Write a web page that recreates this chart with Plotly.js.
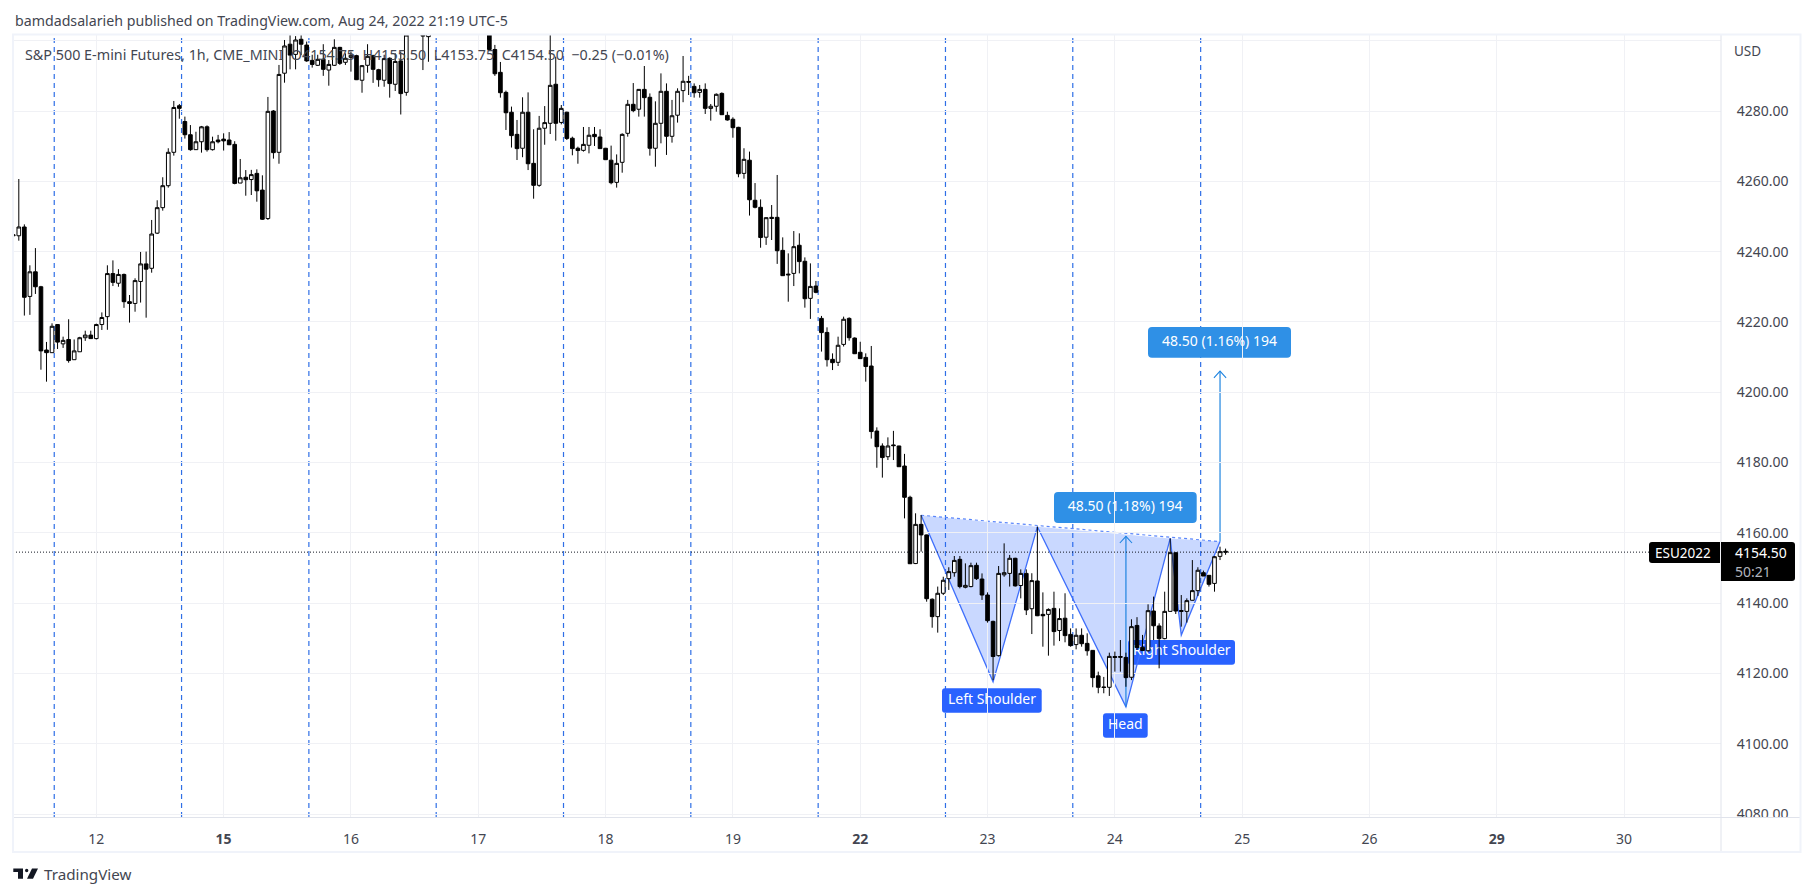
<!DOCTYPE html>
<html><head><meta charset="utf-8">
<script src="https://cdn.plot.ly/plotly-3.0.1.min.js"></script>
<style>html,body{margin:0;padding:0;background:#fff;overflow:hidden}#chart{width:1814px;height:896px}</style>
</head><body><div id="chart"></div>
<script>
const openPrices=[
4244.5,4244.5,4247,4227.25,4234.25,4230,4212,4211.25,4219.25,4213.75,
4215,4209.25,4211.5,4215.5,4216.25,4215.25,4219.25,4221.5,4233.75,4231,
4233.5,4225.75,4225.25,4231.5,4236.5,4235.25,4245.25,4252.5,4258.75,4268.25,
4281.5,4277,4273.25,4269,4271.25,4275.5,4269,4271.75,4272,4271.75,
4270.5,4259.5,4261.15,4260.5,4262.25,4257.5,4249.4,4280,4268.25,4290.75,
4299,4296.1,4300.4,4298.75,4294.4,4293,4294.75,4291.65,4293,4298.1,
4293.85,4295.25,4295.75,4288.75,4293,4295.75,4291.75,4288.75,4295,4287.6,
4294.25,4285.3,4303,4305,4304,4301.15,4304,4306,4307,4305,
4308,4306,4309,4307,4310,4308,4306,4297.5,4291,4285.3,
4279.65,4273.35,4269.4,4279.65,4265.1,4258.85,4275.1,4276.5,4287.6,4276.75,
4279.65,4272.25,4269.4,4268.8,4270.25,4273.35,4272.6,4269.4,4266,4259.7,
4265.4,4273.65,4281.9,4280.5,4286.15,4283.9,4269.4,4276.5,4285.6,4272.8,
4278.8,4285.8,4288.4,4287,4285.3,4286.15,4280.75,4281.35,4285,4278.75,
4277.65,4275.35,4262.25,4266,4254.6,4252.6,4244.1,4249.75,4249.75,4240.35,
4233.6,4233.8,4241.8,4237.25,4226.7,4230.2,4221,4217,4209.35,4208.5,
4213.6,4221,4215.4,4211.35,4209.9,4207.45,4188.95,4184.7,4181.65,4185,
4184.7,4179,4170.1,4151.25,4162.4,4159.4,4141.1,4136.15,4142.8,4146.95,
4148.65,4152.45,4144.5,4144.7,4150.75,4146.85,4142.3,4134.8,4125.05,4148.05,
4148.45,4152.75,4145,4148.45,4138.4,4146.3,4136.8,4136.8,4138.5,4132.2,
4135.7,4131.1,4128.2,4130.85,4128.55,4126.55,4119.3,4116.15,4116.05,4124.8,
4124.55,4124.55,4118.9,4133.65,4127.45,4126.45,4137.75,4133.5,4129.9,4137.65,
4154.35,4137.9,4137.65,4140.8,4143.55,4148.65,4147.9,4145.6,4153.3,4154.75];
const highPrices=[
4246.25,4260.65,4247.75,4236.1,4241,4230.25,4214.3,4219.6,4219.4,4215.8,
4220.75,4215,4215.75,4217.5,4217.5,4219.5,4222.7,4236.1,4237.5,4235,
4233.75,4227.65,4232.4,4239.9,4240,4249,4254.6,4261.15,4269.4,4282.85,
4282,4278.4,4276,4274.1,4275.75,4275.9,4272.7,4273.2,4273.65,4274,
4271.4,4266.35,4263.2,4263.25,4263.4,4261.7,4284,4280.25,4293.1,4300.2,
4301.8,4301.3,4301.8,4299.75,4296,4296,4299,4294.5,4300.4,4298.25,
4296.4,4296.9,4296,4293.1,4299,4296,4292,4296,4295.25,4296.4,
4296.9,4305,4306,4307,4307,4306,4307.5,4309,4308.5,4309.5,
4310,4311,4310.5,4312,4311.5,4310,4308,4298.8,4293.95,4285.8,
4281.25,4277.45,4283.9,4285.3,4274.8,4278.6,4281.4,4303,4295.45,4281.7,
4279.8,4272.7,4269.85,4275.45,4275.45,4275.45,4274.8,4269.5,4270.15,4267.65,
4273.65,4283.15,4287.95,4286.25,4292.8,4285,4282.75,4290.7,4287.85,4283.15,
4286.45,4295.65,4290,4287.85,4287.4,4287.85,4282,4285,4285.3,4279.8,
4278.2,4275.5,4269.4,4268.45,4259.5,4254.85,4249.75,4253.25,4261.8,4244.05,
4239.5,4245.85,4245.2,4238.35,4236.65,4231.65,4221.7,4218.45,4211.05,4215.8,
4221.5,4221.3,4215.6,4214.35,4211.05,4213.15,4190,4185.45,4187.15,4189,
4184.75,4182.45,4170.55,4165.55,4165.05,4159.5,4141.35,4144.7,4147.5,4150.2,
4153.4,4153.4,4151.3,4151.5,4151.5,4148.45,4143.05,4135,4150.55,4157,
4153.7,4152.9,4149.6,4149.6,4148.5,4161.75,4143.05,4138.5,4143.25,4138.5,
4142.8,4132.8,4132.8,4132.8,4131.4,4126.65,4120.5,4119,4125.9,4126.2,
4129.5,4125.9,4135.4,4136,4130.95,4139.65,4141.85,4134.25,4143.25,4158.4,
4154.35,4142.3,4141.35,4152.25,4150.2,4149.25,4148,4153.4,4156.05,4155.5];
const lowPrices=[
4233.25,4243.1,4221.8,4222,4227.95,4206.4,4203,4211.25,4212.3,4212.6,
4208.4,4209.25,4211.5,4214.6,4215.25,4215,4217.7,4217.75,4230.2,4230,
4224,4219.8,4222.9,4225.5,4221.2,4234,4245,4251.65,4258.2,4267.3,
4277.8,4272.15,4268.7,4268.9,4268.15,4268.45,4268.75,4270.8,4268.75,4270.3,
4259.15,4259.5,4255.9,4256.1,4254.2,4249,4249,4266.45,4265,4288.05,
4291.85,4291.85,4295.9,4294,4292.35,4292.8,4290,4287.2,4292.8,4293.1,
4293.1,4291.2,4288.8,4285.2,4290.9,4288,4286.9,4286.9,4283.8,4285.7,
4279,4284.35,4302,4302.5,4291.65,4294,4302.5,4304,4303,4303.5,
4304,4304.5,4305,4305,4306,4304,4297.5,4290,4283.8,4274.6,
4269.6,4266.05,4266.85,4263.2,4255.05,4258.45,4270.4,4273.45,4271.55,4276.2,
4271.75,4267.4,4265,4268.45,4267.95,4270.05,4269.3,4266.15,4259.15,4258.2,
4262.45,4272.7,4279.65,4278.4,4278.4,4267.3,4264.15,4270.8,4267.5,4271,
4276.7,4282.5,4284.55,4283.8,4283.8,4279.15,4277.25,4279.8,4278.85,4277.25,
4272.4,4261.15,4260.75,4250.25,4252.3,4241.1,4241.9,4243.3,4236.5,4233.05,
4225.75,4230.2,4233.8,4224.05,4220.85,4228.15,4211.55,4207.3,4206.3,4207.45,
4213,4214.65,4210.85,4209.45,4203,4186.8,4178.5,4175.7,4180.7,4180.7,
4178.8,4164.1,4151.25,4151.1,4154.65,4140.4,4133,4131.6,4142.3,4143.75,
4147.5,4144.2,4144.2,4144.5,4146.6,4140.9,4134.45,4118.1,4124.8,4147.5,
4144.7,4144.7,4141.35,4136.6,4131.2,4136.3,4127.6,4125.05,4127.9,4129.2,
4128.85,4127.6,4126.85,4127.6,4125.05,4116.05,4114.35,4114.35,4113.6,4120.5,
4120.5,4116.2,4118.1,4126.65,4126.45,4126.2,4129.5,4121.45,4129.7,4137.55,
4136.9,4133.3,4134.45,4140.9,4142,4147.7,4144.7,4143.25,4152.25,4153.75];
const closePrices=[
4244.75,4247,4227,4234.25,4230,4211.75,4211.25,4218.75,4214.25,4214.75,
4209,4211.75,4215.5,4216.25,4215.25,4219.25,4221.25,4233.75,4231.25,4233.5,
4225.75,4225.25,4231.75,4236.5,4235,4245,4252.5,4258.75,4268.25,4281,
4280.75,4273.25,4269,4271.25,4275.5,4269,4271.25,4271.25,4271.5,4270.4,
4259.4,4261,4260.45,4261.9,4257.3,4249.2,4279.9,4268.15,4290.4,4298.5,
4295.9,4300.2,4299,4294.25,4293.25,4294.7,4291.85,4293.25,4298.1,4293.55,
4295,4295.85,4288.9,4292.9,4295.55,4291.85,4288.9,4294.9,4287.8,4294.1,
4284.95,4301.6,4305,4303.5,4301.3,4304,4306,4307,4305,4308,
4306,4309,4307,4310,4308,4306,4297.5,4290.6,4285.2,4279.5,
4273,4269.3,4279.65,4265,4258.85,4275.1,4276.7,4287.3,4276.5,4280.75,
4272.2,4269.3,4268.75,4270.5,4273.1,4272.7,4269.3,4266.15,4259.6,4265.1,
4273.35,4281.9,4280.1,4286.15,4283.8,4269.4,4276.5,4285.6,4272.8,4278.65,
4285.6,4288.45,4288.2,4285.2,4286.15,4280.75,4281.35,4284.75,4278.95,4277.45,
4275.25,4262.15,4266.25,4254.75,4252.6,4244,4249.65,4249.45,4240.25,4233.15,
4233.4,4241.4,4237.15,4226.6,4230.1,4228.4,4216.95,4209.25,4208.4,4213.35,
4220.75,4215.5,4210.95,4209.55,4207.3,4188.8,4184.5,4181.4,4184.7,4184.8,
4178.8,4170.1,4151.2,4162.4,4159.4,4141.25,4136.15,4142.8,4146.5,4148.95,
4152.15,4144.7,4145.05,4150.65,4146.95,4142.3,4135,4124.8,4148.45,4148.65,
4152.75,4144.9,4148.45,4138.05,4146.4,4136.4,4136.4,4138.2,4131.9,4135.6,
4130.75,4127.9,4130.85,4128.45,4126.45,4118.8,4116.05,4116,4124.85,4124.55,
4124.8,4118.8,4133.3,4127.35,4126.5,4137.85,4133.55,4129.9,4137.65,4154.35,
4137.75,4137.65,4140.7,4143.55,4149.35,4147.7,4145.35,4153.2,4154.65,4154.5];
const barIndex=openPrices.map((_,i)=>i);

const dayTickBars=[15,38,61,84,107,130,153,176,199,222,245,268,291];
const dayTickLabels=['12','<b>15</b>','16','17','18','19','<b>22</b>','23','24','25','26','<b>29</b>','30'];
const priceTicks=[4080,4100,4120,4140,4160,4180,4200,4220,4240,4260,4280,4300];
const priceTickLabels=['4080.00','4100.00','4120.00','4140.00','4160.00','4180.00','4200.00','4220.00','4240.00','4260.00','4280.00',''];
const sessionMarks=[7.4,30.4,53.4,76.4,99.4,122.4,145.4,168.4,191.4,214.5];

const patternBars=[164,177,185,201,209,211,218];
const patternPrices=[4165,4117.6,4161.7,4110.5,4158.4,4130.9,4157.5];
const lastPrice=4154.5;
const arrowBars=[201,218];
const arrowBase=[4110.5,4157.5];
const arrowTip=[4159,4206];
const labelBars=[176.8,200.9,211.1,200.85,217.9];
const labelPrices=[4112.3,4105.2,4126.1,4167.3,4214.1];
const labelTexts=['Left Shoulder','Head','Right Shoulder','48.50 (1.18%) 194','48.50 (1.16%) 194'];

const headerText='bamdadsalarieh published on TradingView.com, Aug 24, 2022 21:19 UTC-5';
const legendText='S&P 500 E-mini Futures, 1h, CME_MINI\u00a0\u00a0O4154.75\u00a0\u00a0H4155.50\u00a0\u00a0L4153.75\u00a0\u00a0C4154.50\u00a0\u00a0\u22120.25 (\u22120.01%)';

const FONT='"Noto Sans", sans-serif';
const L=13,R=1721,T=35,B=817,W=1814,H=896;
const px=x=>(x-L)/(R-L), py=y=>(B-y)/(B-T);
const xRange=[-0.05,308.5], yRange=[4079.15,4301.62];

function roundedPath(x0,y0,x1,y1,r,corners){
  const c=corners||[r,r,r,r];
  const [a,b,d,e]=c;
  const P=(x,y)=>px(x)+' '+py(y);
  return 'M'+P(x0+a,y0)+' L'+P(x1-b,y0)+' Q'+P(x1,y0)+' '+P(x1,y0+b)+' L'+P(x1,y1-d)+' Q'+P(x1,y1)+' '+P(x1-d,y1)+' L'+P(x0+e,y1)+' Q'+P(x0,y1)+' '+P(x0,y1-e)+' L'+P(x0,y0+a)+' Q'+P(x0,y0)+' '+P(x0+a,y0)+' Z';
}
const box=(x0,y0,x1,y1,color,layer,r,corners)=>({type:'path',xref:'paper',yref:'paper',layer:layer,path:roundedPath(x0,y0,x1,y1,r,corners),fillcolor:color,line:{width:0}});
const frameLine=(x0,y0,x1,y1,color,w)=>({type:'line',xref:'paper',yref:'paper',layer:'above',x0:px(x0),y0:py(y0),x1:px(x1),y1:py(y1),line:{color:color,width:w}});
const dataPath=pts=>'M'+pts.map(p=>p[0]+' '+p[1]).join(' L');

const shapes=[];
sessionMarks.forEach(b=>shapes.push({type:'line',layer:'below',xref:'x',yref:'paper',x0:b,x1:b,y0:0,y1:1,line:{color:'#2f6fe6',width:1.2,dash:'5px,4px'}}));
const PB=patternBars,PP=patternPrices;
[[0,1,2],[2,3,4],[4,5,6]].forEach(t=>{
  const pts=t.map(k=>[PB[k],PP[k]]);
  shapes.push({type:'path',layer:'below',xref:'x',yref:'y',path:dataPath(pts)+' Z',fillcolor:'rgba(41,98,255,0.25)',line:{width:0}});
  shapes.push({type:'path',layer:'below',xref:'x',yref:'y',path:dataPath(pts),line:{color:'#3f6ffb',width:1.3}});
});
shapes.push({type:'line',layer:'below',xref:'x',yref:'y',x0:PB[0],y0:PP[0],x1:PB[6],y1:PP[6],line:{color:'#5a86fb',width:1.2,dash:'dot'}});
arrowBars.forEach((b,k)=>{
  shapes.push({type:'line',layer:'below',xref:'x',yref:'y',x0:b,x1:b,y0:arrowBase[k],y1:arrowTip[k],line:{color:'#1f84e0',width:1.2}});
  shapes.push({type:'path',layer:'below',xref:'x',yref:'y',path:dataPath([[b-1.1,arrowTip[k]-1.9],[b,arrowTip[k]],[b+1.1,arrowTip[k]-1.9]]),line:{color:'#1f84e0',width:1.1}});
});
shapes.push(box(942,688.3,1041.7,712.7,'#2962ff','below',3));
shapes.push(box(1103,713.3,1147.7,737.7,'#2962ff','below',3));
shapes.push(box(1128,640,1235,664.7,'#2962ff','below',3));
shapes.push(box(1054,492,1196.7,523,'#2f90e6','below',4));
shapes.push(box(1148,327,1291,357.7,'#2f90e6','below',4));
shapes.push({type:'line',layer:'above',xref:'paper',yref:'y',x0:0,x1:px(1649),y0:lastPrice,y1:lastPrice,line:{color:'#131722',width:1,dash:'1px,2px'}});
shapes.push({type:'rect',xref:'paper',yref:'paper',layer:'above',x0:px(1722),x1:px(1800),y0:py(851),y1:py(817.5),fillcolor:'#fff',line:{width:0}});
shapes.push(frameLine(1721,35,1721,852,'#e0e3eb',1));
shapes.push(frameLine(13,817.5,1800,817.5,'#e0e3eb',1));
shapes.push({type:'rect',xref:'paper',yref:'paper',layer:'above',x0:px(13),x1:px(1800.5),y0:py(852),y1:py(34.5),line:{color:'#f0f3fa',width:2},fillcolor:'rgba(0,0,0,0)'});
shapes.push(box(1649,542,1720,563,'#000','above',3,[3,0,0,3]));
shapes.push(box(1721,542,1795,581,'#000','above',3,[0,3,3,0]));
const Lg=(a)=>'M'+a.map(p=>px(p[0])+' '+py(p[1])).join(' L')+' Z';
shapes.push({type:'path',xref:'paper',yref:'paper',layer:'above',fillcolor:'#131722',line:{width:0},path:Lg([[13.3,868.5],[23,868.5],[23,878.7],[18,878.7],[18,872],[13.3,872]])});
shapes.push({type:'path',xref:'paper',yref:'paper',layer:'above',fillcolor:'#131722',line:{width:0},path:Lg([[32,868.5],[38,868.5],[33,878.7],[27,878.7]])});
shapes.push({type:'circle',xref:'paper',yref:'paper',layer:'above',fillcolor:'#131722',line:{width:0},x0:px(25),x1:px(28.4),y0:py(872.2),y1:py(868.8)});

const note=(x,y,text,opt)=>Object.assign({xref:'paper',yref:'paper',x:px(x),y:py(y),text:text,showarrow:false,xanchor:'left',yanchor:'middle',font:{family:FONT,size:14,color:'#131722'}},opt||{});
const annotations=[
  note(13,20,headerText,{font:{family:FONT,size:14.2,color:'#434651'}}),
  note(23,54,legendText,{font:{family:FONT,size:14.35,color:'#434651'}}),
  note(1732,51,'USD',{font:{family:FONT,size:13.5,color:'#434651'}}),
  note(41.5,874,'TradingView',{font:{family:FONT,size:15.2,color:'#434651'}}),
  note(1683,552.7,'ESU2022',{xanchor:'center',font:{family:FONT,size:13.5,color:'#fff'}}),
  note(1733,552.7,'4154.50',{font:{family:FONT,size:14,color:'#fff'}}),
  note(1733,571,'50:21',{font:{family:FONT,size:14,color:'#b2b5be'}})
];

const labelTrace={type:'scatter',mode:'text',x:labelBars,y:labelPrices,text:labelTexts,textposition:'middle center',xaxis:'x',yaxis:'y',cliponaxis:false,hoverinfo:'skip',showlegend:false,textfont:{family:FONT,size:14,color:'#fff'}};
const candles={type:'candlestick',x:barIndex,open:openPrices,high:highPrices,low:lowPrices,close:closePrices,xaxis:'x2',yaxis:'y2',whiskerwidth:0,hoverinfo:'skip',showlegend:false,
  increasing:{line:{color:'#000',width:1},fillcolor:'#fff'},decreasing:{line:{color:'#000',width:1},fillcolor:'#000'}};

const layout={
  width:W,height:H,autosize:false,paper_bgcolor:'#fff',plot_bgcolor:'#fff',showlegend:false,boxgap:0.34,boxgroupgap:0,
  margin:{l:L,r:W-R,t:T,b:H-B,pad:0},
  xaxis:{range:xRange,tickmode:'array',tickvals:dayTickBars,ticktext:dayTickLabels,showgrid:true,gridcolor:'#f0f1f5',gridwidth:1,zeroline:false,showline:false,ticks:'outside',ticklen:9,tickcolor:'rgba(0,0,0,0)',tickangle:0,tickfont:{family:FONT,size:14,color:'#434651'},fixedrange:true},
  yaxis:{range:yRange,side:'right',tickmode:'array',tickvals:priceTicks,ticktext:priceTickLabels,showgrid:true,gridcolor:'#f0f1f5',gridwidth:1,zeroline:false,showline:false,ticks:'outside',ticklen:12,tickcolor:'rgba(0,0,0,0)',tickfont:{family:FONT,size:14,color:'#434651'},fixedrange:true},
  xaxis2:{range:xRange,overlaying:'x',visible:false,rangeslider:{visible:false},fixedrange:true},
  yaxis2:{range:yRange,overlaying:'y',visible:false,fixedrange:true},
  shapes:shapes,annotations:annotations
};
Plotly.newPlot('chart',[labelTrace,candles],layout,{staticPlot:true,displayModeBar:false});
</script></body></html>
